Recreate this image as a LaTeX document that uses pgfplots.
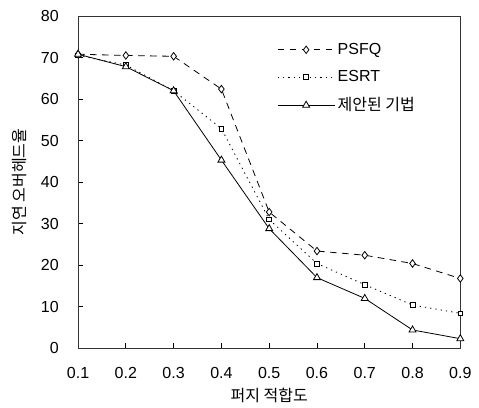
\documentclass[border=0pt]{standalone}
\usepackage{fontspec}
\setmainfont{Liberation Sans}
\newfontfamily\kr{Noto Sans CJK KR}
\usepackage{pgfplots}
\pgfplotsset{compat=1.18}
\begin{document}
\begin{tikzpicture}
\begin{axis}[
  width=286.5pt, height=249pt, scale only axis,
  xmin=0.1, xmax=0.9, ymin=0, ymax=80,
  xtick={0.1,0.2,...,0.9},
  ytick={0,10,...,80},
  xticklabel style={yshift=-11pt, /pgf/number format/fixed, /pgf/number format/precision=1},
  /pgf/number format/assume math mode=true,
  tick align=inside,
  xtick pos=bottom, ytick pos=left,
  major tick length=4pt,
  tick style={black, line width=0.6pt},
  axis line style={line width=0.6pt, black!80},
  ticklabel style={font=\fontsize{12}{14}\selectfont},
  yticklabel style={xshift=-11pt},
  xlabel={\kr 퍼지 적합도}, ylabel={\kr 지연 오버헤드율},
  label style={font=\fontsize{12}{14}\selectfont},
  xlabel style={yshift=0pt},
  ylabel style={yshift=4pt},
  legend style={draw=none, fill=none, at={(0.51,0.935)}, anchor=north west,
    font=\fontsize{12}{14}\selectfont, row sep=6.5pt},
  legend cell align=left,
  legend image code/.code={\draw[mark repeat=2,mark phase=2,#1] plot coordinates {(0cm,0cm)(0.75cm,0cm)(1.5cm,0cm)};},
  clip=false,
]
\addplot[black, line width=0.6pt, dash pattern=on 5pt off 4pt, mark=diamond*, mark options={solid, fill=white, scale=1.4}]
  coordinates {(0.1,70.8) (0.2,70.5) (0.3,70.3) (0.4,62.4) (0.5,32.8) (0.6,23.4) (0.7,22.4) (0.8,20.4) (0.9,16.8)};
\addlegendentry{PSFQ}
\addplot[black, line width=0.6pt, dash pattern=on 1pt off 3pt, mark=square*, mark options={solid, fill=white, scale=0.9}]
  coordinates {(0.1,70.5) (0.2,68.2) (0.3,62.0) (0.4,52.9) (0.5,31.0) (0.6,20.4) (0.7,15.3) (0.8,10.4) (0.9,8.4)};
\addlegendentry{ESRT}
\addplot[black, line width=0.6pt, mark=triangle*, mark options={solid, fill=white, scale=1.5}]
  coordinates {(0.1,70.8) (0.2,67.8) (0.3,62.0) (0.4,45.3) (0.5,28.8) (0.6,17.0) (0.7,12.0) (0.8,4.4) (0.9,2.3)};
\addlegendentry{\kr 제안된 기법}
\end{axis}
\path (current axis.east) ++(14pt,0);
\path (current axis.west) ++(-58.5pt,0);
\path (current axis.north) ++(0,12pt);
\path (current axis.south) ++(0,-43pt);
\end{tikzpicture}
\end{document}
